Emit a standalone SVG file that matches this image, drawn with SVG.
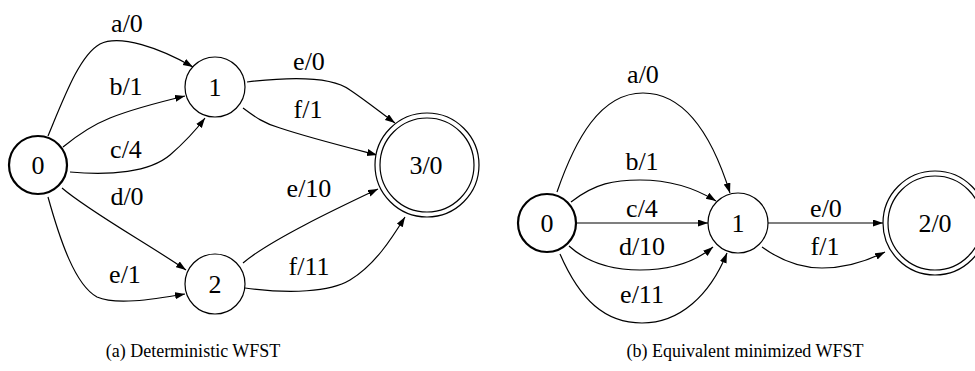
<svg xmlns="http://www.w3.org/2000/svg" width="975" height="371" viewBox="0 0 975 371">
<style>
.n{fill:#fff;stroke:#000;stroke-width:1.2}
.s{fill:#fff;stroke:#000;stroke-width:2.2}
.e{fill:none;stroke:#000;stroke-width:1.2}
text{font-family:"Liberation Serif","Times New Roman",serif;font-size:26px;fill:#000;text-anchor:middle}
.cap{font-size:18px}
</style>
<defs>
<marker id="ah" markerUnits="userSpaceOnUse" markerWidth="11" markerHeight="8" refX="10" refY="3.5" orient="auto">
<path d="M0,0 L10,3.5 L0,7 z" fill="#000"/>
</marker>
</defs>
<rect width="975" height="371" fill="#fff"/>
<g id="edges">
<path class="e" marker-end="url(#ah)" d="M48,136 C65,95 80,55 100,44 C120,34 160,48 193,67"/>
<path class="e" marker-end="url(#ah)" d="M63,147 C80,133 95,124 110,118 C135,108 160,102 185,96"/>
<path class="e" marker-end="url(#ah)" d="M70,172 C110,176 150,172 170,155 C185,142 196,130 205,118"/>
<path class="e" marker-end="url(#ah)" d="M62,188 C90,212 150,245 186,270"/>
<path class="e" marker-end="url(#ah)" d="M48,197 C60,240 75,285 97,297 C115,305 150,300 185,294"/>
<path class="e" marker-end="url(#ah)" d="M247,82 C280,78 330,75 350,90 C365,100 380,112 395,123"/>
<path class="e" marker-end="url(#ah)" d="M243,108 C255,117 265,124 280,128 C310,138 350,148 377,155"/>
<path class="e" marker-end="url(#ah)" d="M243,263 C270,240 340,207 378,189"/>
<path class="e" marker-end="url(#ah)" d="M245,288 C290,294 330,292 350,280 C375,265 392,238 405,217"/>
<path class="e" marker-end="url(#ah)" d="M557,192 C575,140 600,93 643,93 C690,93 715,145 730,193"/>
<path class="e" marker-end="url(#ah)" d="M571,202 C595,183 615,180 640,180 C670,180 695,188 716,201"/>
<path class="e" marker-end="url(#ah)" d="M577,223 L708,223"/>
<path class="e" marker-end="url(#ah)" d="M569,246 C590,265 615,270 640,270 C670,270 695,262 713,247"/>
<path class="e" marker-end="url(#ah)" d="M560,254 C580,300 605,323 642,323 C680,323 710,295 727,253"/>
<path class="e" marker-end="url(#ah)" d="M768,223 L883,223"/>
<path class="e" marker-end="url(#ah)" d="M762,247 C780,260 800,268 822,268 C845,268 865,262 885,252"/>
<text x="127" y="32">a/0</text>
<text x="126" y="95">b/1</text>
<text x="126" y="158">c/4</text>
<text x="127" y="205">d/0</text>
<text x="125" y="283">e/1</text>
<text x="309" y="70">e/0</text>
<text x="308" y="118">f/1</text>
<text x="309" y="197">e/10</text>
<text x="309" y="275">f/11</text>
<text x="643" y="83">a/0</text>
<text x="642" y="170">b/1</text>
<text x="642" y="217">c/4</text>
<text x="642" y="255">d/10</text>
<text x="642" y="303">e/11</text>
<text x="826" y="217">e/0</text>
<text x="825" y="255">f/1</text>
</g>
<g id="a0"><circle class="s" cx="38" cy="165" r="29"/><text x="38" y="174">0</text></g>
<g id="a1"><circle class="n" cx="215" cy="87" r="30"/><text x="215" y="96">1</text></g>
<g id="a2"><circle class="n" cx="215" cy="284" r="30"/><text x="215" y="293">2</text></g>
<g id="a3"><circle class="n" cx="427" cy="165" r="52"/><circle class="n" cx="427" cy="165" r="47"/><text x="426" y="174">3/0</text></g>
<g id="b0"><circle class="s" cx="547" cy="223" r="29"/><text x="547" y="232">0</text></g>
<g id="b1"><circle class="n" cx="738" cy="223" r="30"/><text x="738" y="232">1</text></g>
<g id="b2"><circle class="n" cx="935" cy="223" r="52"/><circle class="n" cx="935" cy="223" r="47"/><text x="935" y="232">2/0</text></g>
<text class="cap" x="193" y="357">(a) Deterministic WFST</text>
<text class="cap" x="745" y="357">(b) Equivalent minimized WFST</text>
</svg>
